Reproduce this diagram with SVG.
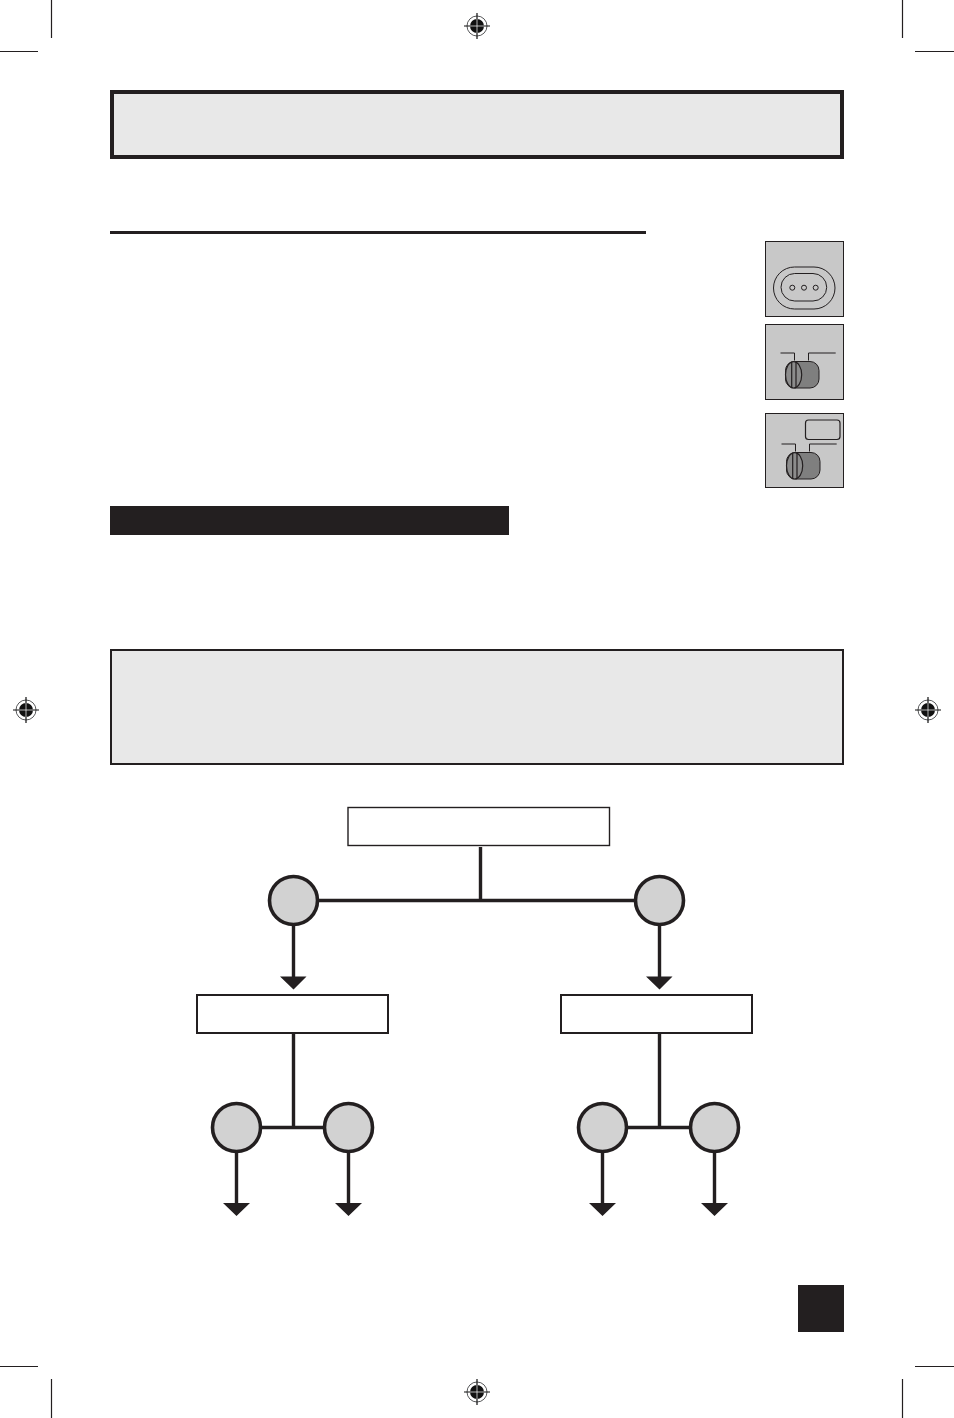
<svg xmlns="http://www.w3.org/2000/svg" width="954" height="1418" viewBox="0 0 954 1418">
<style>
.crop{stroke:#231f20;stroke-width:1.2;fill:none}
.conn{stroke:#231f20;stroke-width:3.4;fill:none}
.hd{fill:#231f20}
.box{fill:#fff;stroke:#231f20;stroke-width:2}
.box-thin{fill:#fff;stroke:#231f20;stroke-width:1.4}
.circ{fill:#d2d2d2;stroke:#231f20;stroke-width:3.6}
.panel{fill:#c8c8c8;stroke:#231f20;stroke-width:1}
.thin{fill:none;stroke:#231f20;stroke-width:1}
.mid{fill:none;stroke:#231f20;stroke-width:1.2}
</style>
<defs>
<g id="reg">
<circle r="10" fill="none" stroke="#58595b" stroke-width="1"/>
<circle r="7" fill="#111"/>
<path d="M-13 0H13M0-13V13" stroke="#111" stroke-width="1.2"/>
<path d="M-7 0H7M0-7V7" stroke="#fff" stroke-width="0.7"/>
</g>
<g id="switch">
<path class="thin" d="M780.500 353H794.500V360.500M808.500 360.500V353H835.700"/>
<rect x="785.500" y="361.500" width="33.500" height="26.500" rx="9" fill="#7f7f7f" stroke="#231f20" stroke-width="1"/>
<ellipse cx="793.600" cy="374.800" rx="8.100" ry="13.200" fill="#8c8c8c" stroke="#231f20" stroke-width="1.200"/>
<path class="mid" d="M791.700 362V387.600M796 362V387.600"/>
</g>
</defs>
<rect width="954" height="1418" fill="#fff"/>
<g id="crop-marks">
<path class="crop" d="M51.500 0V38M0 51.500H38M902.500 0V38M915 51.500H954M0 1366.500H38M51.500 1379V1418M915 1366.500H954M902.500 1379V1418"/>
<use href="#reg" x="477" y="26"/>
<use href="#reg" x="477" y="1392"/>
<use href="#reg" x="26" y="710"/>
<use href="#reg" x="928" y="710"/>
</g>
<g id="header"><rect x="112" y="92" width="730" height="65" fill="#e8e8e8" stroke="#231f20" stroke-width="4"/></g>
<rect id="rule" class="hd" x="110" y="231" width="536" height="3"/>
<g id="panel-1">
<rect class="panel" x="765.500" y="241.500" width="78" height="75"/>
<rect class="thin" x="773.500" y="267" width="61.500" height="42" rx="21"/>
<rect class="thin" x="781" y="273.500" width="45.700" height="27.500" rx="13.700"/>
<circle class="thin" cx="792.300" cy="287.700" r="2.500"/>
<circle class="thin" cx="804" cy="287.700" r="2.500"/>
<circle class="thin" cx="815.700" cy="287.700" r="2.500"/>
</g>
<g id="panel-2">
<rect class="panel" x="765.500" y="324.500" width="78" height="75"/>
<use href="#switch"/>
</g>
<g id="panel-3">
<rect class="panel" x="765.500" y="413.500" width="78" height="74"/>
<rect class="mid" x="805.500" y="420" width="34.500" height="19.500" rx="3"/>
<use href="#switch" x="1" y="91"/>
</g>
<rect id="black-bar" class="hd" x="110" y="506" width="399" height="29"/>
<g id="note"><rect x="111" y="650" width="732" height="114" fill="#e8e8e8" stroke="#231f20" stroke-width="2"/></g>
<g id="connectors">
<path class="conn" d="M480.500 847V900.500M318 900.500H635M293.500 925V977M659.500 925V977M293.500 1033V1127.500M659.500 1033V1127.500M260 1127.500H325M626 1127.500H691M236.500 1152V1204M348.500 1152V1204M602.500 1152V1204M714.500 1152V1204"/>
<path class="hd" d="M280 976.500H306.500L293.500 989.500ZM646 976.500H672.500L659.500 989.500ZM223 1203H250L236.500 1216ZM335 1203H362L348.500 1216ZM589 1203H616L602.500 1216ZM701 1203H728L714.500 1216Z"/>
</g>
<g id="node-top"><rect class="box-thin" x="348" y="807.500" width="261.500" height="38"/></g>
<g id="node-a"><circle class="circ" cx="293.500" cy="900.500" r="24"/></g>
<g id="node-b"><circle class="circ" cx="659.500" cy="900.500" r="24"/></g>
<g id="node-left"><rect class="box" x="197" y="995" width="191" height="38"/></g>
<g id="node-right"><rect class="box" x="561" y="995" width="191" height="38"/></g>
<g id="node-a1"><circle class="circ" cx="236.500" cy="1127.500" r="24"/></g>
<g id="node-a2"><circle class="circ" cx="348.500" cy="1127.500" r="24"/></g>
<g id="node-b1"><circle class="circ" cx="602.500" cy="1127.500" r="24"/></g>
<g id="node-b2"><circle class="circ" cx="714.500" cy="1127.500" r="24"/></g>
<rect id="page-box" class="hd" x="798" y="1285" width="46" height="47"/>
</svg>
